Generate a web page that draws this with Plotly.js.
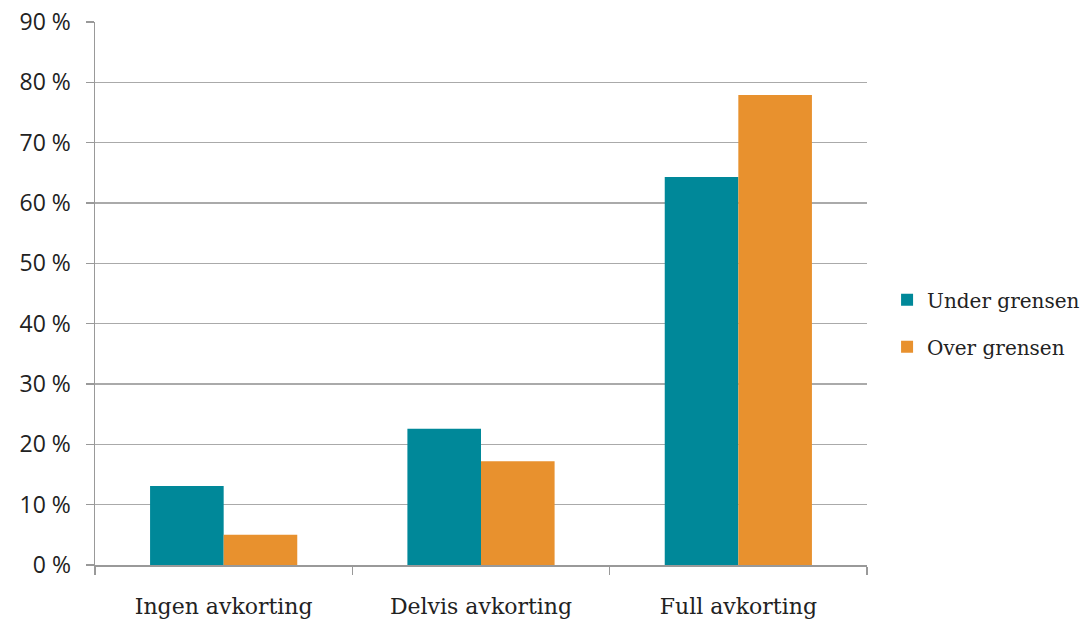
<!DOCTYPE html>
<html>
<head>
<meta charset="utf-8">
<script src="https://cdn.plot.ly/plotly-3.0.1.min.js"></script>
<style>html,body{margin:0;padding:0;background:#fff;}#chart{width:1080px;height:621px;}</style>
</head>
<body>
<div id="chart"></div>
<script>
const categories = ["Ingen avkorting", "Delvis avkorting", "Full avkorting"];
const underValues = [13.1, 22.6, 64.3];
const overValues = [5.0, 17.2, 77.9];
const seriesNames = ["Under grensen", "Over grensen"];
const colors = ["#008899", "#E8912E"];

const traces = [
  {type: "bar", name: seriesNames[0], x: categories, y: underValues, marker: {color: colors[0]}, legendgroup: "a", hoverinfo: "none"},
  {type: "bar", name: seriesNames[1], x: categories, y: overValues, marker: {color: colors[1]}, legendgroup: "b", hoverinfo: "none"}
];

const layout = {
  width: 1080, height: 621,
  margin: {l: 95, r: 213, t: 22, b: 56, autoexpand: false},
  paper_bgcolor: "#fff", plot_bgcolor: "#fff",
  barmode: "group", bargap: 0.428, bargroupgap: 0,
  showlegend: true,
  legend: {x: 1.026, xanchor: "left", xref: "paper", y: 0.445, yanchor: "middle", font: {family: "DejaVu Serif, Liberation Serif, serif", size: 20, color: "#222"}, traceorder: "grouped", tracegroupgap: 18, itemwidth: 30, bgcolor: "rgba(0,0,0,0)"},
  xaxis: {
    type: "category", showgrid: false, showline: true, linecolor: "#999", linewidth: 1.5,
    ticks: "outside", tickson: "boundaries", ticklen: 8, tickcolor: "#999", tickwidth: 1.5,
    tickfont: {family: "DejaVu Serif, Liberation Serif, serif", size: 22, color: "#222"},
    ticklabelstandoff: 21
  },
  yaxis: {
    range: [0, 90], dtick: 10, ticksuffix: " %", showgrid: true, gridcolor: "#aaa", gridwidth: 1.5,
    showline: true, linecolor: "#999", linewidth: 1.5, zeroline: false,
    ticks: "outside", ticklen: 8, tickcolor: "#999", tickwidth: 1.5,
    tickfont: {family: "Open Sans, Liberation Sans, sans-serif", size: 23, color: "#222"},
    ticklabelstandoff: 10
  }
};

Plotly.newPlot("chart", traces, layout, {staticPlot: true});
</script>
</body>
</html>
